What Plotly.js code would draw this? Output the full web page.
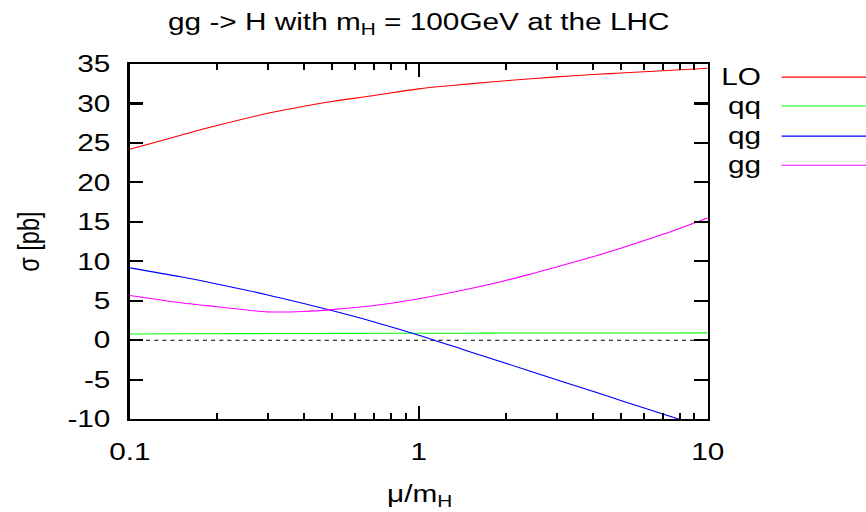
<!DOCTYPE html>
<html>
<head>
<meta charset="utf-8">
<script src="https://cdn.plot.ly/plotly-3.0.1.min.js"></script>
<style>
  html, body { margin: 0; padding: 0; width: 866px; height: 512px; background: #ffffff; }
  html { overflow: hidden; }
  #plot { width: 640px; height: 480px; transform-origin: 0 0; }
</style>
</head>
<body>
<div id="plot"></div>
<script>
// Scale ratio mu/m_H (log axis)
const muRatio = [0.1, 0.15, 0.2, 0.3, 0.4, 0.5, 0.7, 1, 1.5, 2, 3, 4, 5, 7, 10];

// Cross sections in pb
const sigmaLO = [24.2, 25.98, 27.2, 28.75, 29.65, 30.25, 31.0, 31.85, 32.48, 32.88, 33.37, 33.66, 33.86, 34.14, 34.45];
const sigmaQQ = [0.80, 0.82, 0.83, 0.85, 0.86, 0.87, 0.88, 0.89, 0.90, 0.91, 0.92, 0.92, 0.93, 0.93, 0.94];
const sigmaQG = [9.17, 8.04, 7.14, 5.74, 4.65, 3.76, 2.32, 0.65, -1.45, -2.92, -5.0, -6.47, -7.62, -9.34, -11.17];
const sigmaGG = [5.67, 4.75, 4.25, 3.6, 3.65, 3.88, 4.4, 5.27, 6.53, 7.58, 9.29, 10.58, 11.66, 13.42, 15.5];

const seriesNames  = ['LO', 'qq', 'qg', 'gg'];
const seriesColors = ['#ff0000', '#00ff00', '#0000ff', '#ff00ff'];
const seriesValues = [sigmaLO, sigmaQQ, sigmaQG, sigmaGG];

const xTickVals  = [0.1, 1, 10];
const xTickText  = ['0.1', '1', '10'];
const xMinorVals = [0.2, 0.3, 0.4, 0.5, 0.6, 0.7, 0.8, 0.9, 2, 3, 4, 5, 6, 7, 8, 9];
const yTickVals  = [-10, -5, 0, 5, 10, 15, 20, 25, 30, 35];
const yTickText  = ['-10', '-5', '0', '5', '10', '15', '20', '25', '30', '35'];

const FONT = 'Liberation Sans, Arial, Helvetica, sans-serif';
const txt = { family: FONT, size: 22, color: '#000000' };

const traces = seriesValues.map((vals, i) => ({
  x: muRatio,
  y: vals,
  type: 'scatter',
  mode: 'lines',
  name: seriesNames[i],
  line: { color: seriesColors[i], width: 1, shape: 'spline', smoothing: 0.9 },
  showlegend: false
}));

// Key on the right: label then a short line sample
const keyRows = [0.963, 0.882, 0.797, 0.715];
const annotations = seriesNames.map((n, i) => ({
  xref: 'paper', yref: 'paper',
  x: 1.0955, y: keyRows[i],
  xanchor: 'right', yanchor: 'middle',
  text: n, showarrow: false, font: txt
}));
// x axis label
annotations.push({
  xref: 'paper', yref: 'paper',
  x: 0.5, y: -0.215, xanchor: 'center', yanchor: 'middle',
  text: 'μ/m<sub>H</sub>', showarrow: false, font: txt
});

const shapes = seriesNames.map((n, i) => ({
  type: 'line', xref: 'paper', yref: 'paper',
  x0: 1.128, x1: 1.32, y0: keyRows[i], y1: keyRows[i],
  line: { color: seriesColors[i], width: 1 }
}));
// dotted zero line
shapes.push({
  type: 'line', xref: 'paper', yref: 'y',
  x0: 0, x1: 1, y0: 0, y1: 0, layer: 'below',
  line: { color: '#000000', width: 1, dash: 'dot' }
});

const layout = {
  width: 640, height: 480,
  margin: { l: 96, r: 117, t: 60, b: 87, pad: 0 },
  paper_bgcolor: '#ffffff', plot_bgcolor: '#ffffff',
  font: txt,
  title: {
    text: 'gg -> H with m<sub>H</sub> = 100GeV at the LHC',
    font: txt,
    x: 0.5, xref: 'paper', xanchor: 'center',
    y: 0.958, yref: 'container', yanchor: 'middle'
  },
  xaxis: {
    type: 'log', range: [-1, 1],
    tickmode: 'array', tickvals: xTickVals, ticktext: xTickText,
    ticks: 'inside', ticklen: 12, tickwidth: 1.5, tickcolor: '#000000',
    minor: { tickmode: 'array', tickvals: xMinorVals, ticks: 'inside', ticklen: 6, tickwidth: 1.5, tickcolor: '#000000', showgrid: false },
    showline: true, linewidth: 2, linecolor: '#000000', mirror: 'ticks',
    showgrid: false, zeroline: false,
    ticklabelstandoff: 10,
    tickfont: txt
  },
  yaxis: {
    range: [-10, 35],
    tickmode: 'array', tickvals: yTickVals, ticktext: yTickText,
    ticks: 'inside', ticklen: 10, tickwidth: 2, tickcolor: '#000000',
    showline: true, linewidth: 2, linecolor: '#000000', mirror: 'ticks',
    showgrid: false, zeroline: false,
    ticklabelstandoff: 8,
    tickfont: txt,
    title: { text: 'σ [pb]', standoff: 14, font: txt }
  },
  annotations: annotations,
  shapes: shapes
};

const gd = document.getElementById('plot');
Plotly.newPlot(gd, traces, layout, { staticPlot: true, displayModeBar: false }).then(() => {
  // stretch the 640x480 drawing to fill the 866x512 window
  gd.style.transform = 'scale(' + (866 / 640) + ',' + (512 / 480) + ')';
});
</script>
</body>
</html>
